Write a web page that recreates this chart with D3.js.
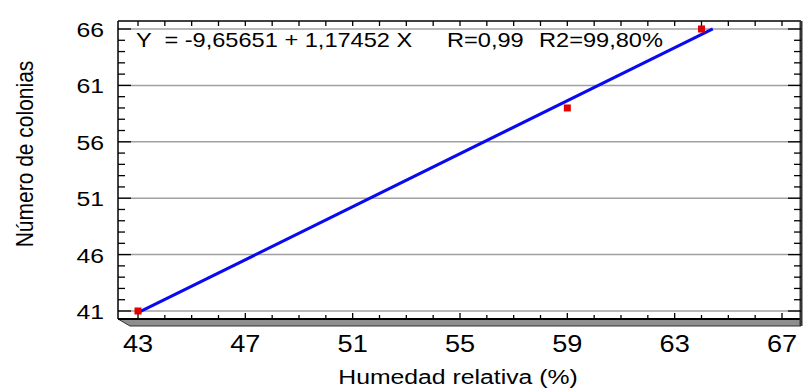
<!DOCTYPE html>
<html>
<head>
<meta charset="utf-8">
<script src="https://cdn.jsdelivr.net/npm/d3@7"></script>
<style>
  html, body { margin: 0; padding: 0; background: #fff; }
  svg { display: block; }
  text { font-family: "Liberation Sans", Arial, sans-serif; fill: #000; white-space: pre; }
</style>
</head>
<body>
<svg id="chart" width="803" height="390"></svg>
<script>
// ---- data ----
const humedad = [43, 59, 64];          // X: Humedad relativa (%)
const colonias = [41, 59, 66];         // Y: Número de colonias
const intercept = -9.65651;
const slope = 1.17452;
const fitRangeX = [43, 64.42];         // extent of the drawn fitted line
const xTickLabels = [43, 47, 51, 55, 59, 63, 67];
const yTickLabels = [41, 46, 51, 56, 61, 66];
const xMinorTicks = d3.range(43, 68, 1);
const yMinorTicks = d3.range(41, 67, 1);
const equationText = "Y  = -9,65651 + 1,17452 X";
const rText = "R=0,99";
const r2Text = "R2=99,80%";
const xTitle = "Humedad relativa (%)";
const yTitle = "Número de colonias";

// ---- layout ----
const SX = 1.18; // horizontal text stretch seen in the reference
const frame = { left: 118, right: 801, top: 21, bottom: 319 };
const svg = d3.select("#chart");
const x = d3.scaleLinear().domain([43, 67]).range([138, 782]);
const y = d3.scaleLinear().domain([41, 66]).range([311, 29]);

function stretchedText(g, px, py, str, size, anchor) {
  return g.append("g")
    .attr("transform", `translate(${px},${py}) scale(${SX},1)`)
    .append("text")
    .attr("font-size", size)
    .attr("text-anchor", anchor || "start")
    .text(str);
}

// grid lines
svg.append("g").selectAll("line").data(yTickLabels).join("line")
  .attr("x1", frame.left).attr("x2", frame.right)
  .attr("y1", d => y(d)).attr("y2", d => y(d))
  .attr("stroke", "#a0a0a0").attr("stroke-width", 1.5);

// floor (3D base)
svg.append("polygon")
  .attr("points", [[frame.left, frame.bottom], [frame.right, frame.bottom], [frame.right, frame.bottom + 7], [frame.left + 12, frame.bottom + 7]].map(p => p.join(",")).join(" "))
  .attr("fill", "#8e8e8e").attr("stroke", "#333").attr("stroke-width", 1);

// frame
svg.append("line").attr("x1", frame.left).attr("x2", frame.right).attr("y1", frame.top).attr("y2", frame.top)
  .attr("stroke", "#000").attr("stroke-width", 1.5);
svg.append("line").attr("x1", frame.left).attr("x2", frame.left).attr("y1", frame.top).attr("y2", frame.bottom)
  .attr("stroke", "#000").attr("stroke-width", 1.5);
svg.append("line").attr("x1", frame.left).attr("x2", frame.right).attr("y1", frame.bottom).attr("y2", frame.bottom)
  .attr("stroke", "#000").attr("stroke-width", 2);
svg.append("line").attr("x1", frame.right).attr("x2", frame.right).attr("y1", frame.top).attr("y2", frame.bottom + 7)
  .attr("stroke", "#333").attr("stroke-width", 3);

// y ticks (left and right, inward)
const yMajorSet = new Set(yTickLabels);
svg.append("g").selectAll("line").data(yMinorTicks).join("line")
  .attr("x1", frame.left).attr("x2", d => frame.left + (yMajorSet.has(d) ? 13 : 7))
  .attr("y1", d => y(d)).attr("y2", d => y(d))
  .attr("stroke", "#000").attr("stroke-width", 1.3);
svg.append("g").selectAll("line").data(yMinorTicks).join("line")
  .attr("x1", frame.right).attr("x2", d => frame.right - (yMajorSet.has(d) ? 13 : 7))
  .attr("y1", d => y(d)).attr("y2", d => y(d))
  .attr("stroke", "#000").attr("stroke-width", 1.3);

// x ticks (top and bottom, inward)
const xMajorSet = new Set(xTickLabels);
svg.append("g").selectAll("line").data(xMinorTicks).join("line")
  .attr("x1", d => x(d)).attr("x2", d => x(d))
  .attr("y1", frame.top).attr("y2", frame.top + 5)
  .attr("stroke", "#000").attr("stroke-width", 1.3);
svg.append("g").selectAll("line").data(xMinorTicks).join("line")
  .attr("x1", d => x(d)).attr("x2", d => x(d))
  .attr("y1", frame.bottom).attr("y2", d => frame.bottom - (xMajorSet.has(d) ? 6 : 4))
  .attr("stroke", "#000").attr("stroke-width", 1.3);

// tick labels
const yLab = svg.append("g");
yTickLabels.forEach(d => stretchedText(yLab, 104, y(d) + 8, String(d), 21, "end"));
const xLab = svg.append("g");
xTickLabels.forEach(d => stretchedText(xLab, x(d), 351.5, String(d), 23, "middle"));

// axis titles
stretchedText(svg, 458, 384, xTitle, 21, "middle");
svg.append("g")
  .attr("transform", `translate(33,154) scale(${SX},1) rotate(-90)`)
  .append("text").attr("font-size", 21).attr("text-anchor", "middle").text(yTitle);

// fitted line
const fitLine = d3.line().x(d => x(d)).y(d => y(intercept + slope * d));
svg.append("path").datum(fitRangeX)
  .attr("d", fitLine).attr("fill", "none")
  .attr("stroke", "#0a0af0").attr("stroke-width", 3);

// points
svg.append("g").selectAll("rect").data(humedad.map((h, i) => [h, colonias[i]])).join("rect")
  .attr("x", d => x(d[0]) - 3.5).attr("y", d => y(d[1]) - 3.5)
  .attr("width", 7).attr("height", 7)
  .attr("fill", "#e00000");

// equation annotation
stretchedText(svg, 136, 47, equationText, 20, "start");
stretchedText(svg, 447, 47, rText, 20, "start");
stretchedText(svg, 539, 47, r2Text, 20, "start");
</script>
</body>
</html>
